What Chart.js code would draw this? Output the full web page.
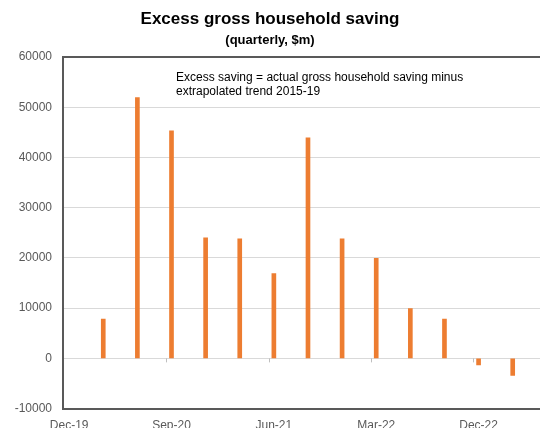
<!DOCTYPE html>
<html>
<head>
<meta charset="utf-8">
<script src="https://cdn.jsdelivr.net/npm/chart.js@4.4.1/dist/chart.umd.min.js"></script>
<style>
    body { margin: 0; overflow: hidden; background: #fff; }
    canvas { display: block; }
</style>
</head>
<body>
<canvas id="myChart" width="540" height="451"></canvas>
<script>
// quarterly excess saving, $m
const quarters = ['Dec-19', 'Mar-20', 'Jun-20', 'Sep-20', 'Dec-20', 'Mar-21', 'Jun-21',
                  'Sep-21', 'Dec-21', 'Mar-22', 'Jun-22', 'Sep-22', 'Dec-22', 'Mar-23'];
const excessSaving = [null, 7800, 51900, 45300, 24000, 23800, 16900,
                      43900, 23800, 19900, 9900, 7800, -1300, -3400];
const yMin = -10000;
const yMax = 60000;
const yStep = 10000;
const noteLines = ['Excess saving = actual gross household saving minus',
                   'extrapolated trend 2015-19'];

const axisGrey = '#595959';
const gridGrey = '#d9d9d9';
const fontFamily = '"Liberation Sans", Arial, sans-serif';

// note text + the little tick marks Excel puts on the zero line
const notePlugin = {
    id: 'note',
    afterDraw(chart) {
        const ctx = chart.ctx;
        const area = chart.chartArea;
        const xs = chart.scales.x;
        const y0 = chart.scales.y.getPixelForValue(0);
        ctx.save();
        ctx.strokeStyle = '#bfbfbf';
        ctx.lineWidth = 1;
        for (let i = 3; i < quarters.length; i += 3) {
            const px = Math.round(xs.getPixelForValue(i - 0.15)) + 0.5;
            ctx.beginPath();
            ctx.moveTo(px, y0);
            ctx.lineTo(px, y0 + 4);
            ctx.stroke();
        }
        ctx.font = '12px ' + fontFamily;
        ctx.fillStyle = '#000';
        ctx.textBaseline = 'middle';
        ctx.textAlign = 'left';
        noteLines.forEach((line, i) => {
            ctx.fillText(line, area.left + 113, area.top + 21 + i * 14);
        });
        ctx.restore();
    }
};

const ctx = document.getElementById('myChart').getContext('2d');
const myChart = new Chart(ctx, {
    type: 'bar',
    data: {
        datasets: [{
            label: 'Excess saving',
            data: excessSaving.map((v, i) => ({ x: i, y: v })),
            backgroundColor: '#ED7D31',
            borderWidth: 0,
            barThickness: 4
        }]
    },
    options: {
        responsive: false,
        animation: false,
        layout: { padding: { top: 0, right: 0, bottom: 8, left: 0 } },
        plugins: {
            legend: { display: false },
            tooltip: { enabled: false },
            title: {
                display: true,
                text: 'Excess gross household saving',
                color: '#000',
                font: { family: fontFamily, size: 17, weight: 'bold' },
                padding: { top: 9, bottom: 0 }
            },
            subtitle: {
                display: true,
                text: '(quarterly, $m)',
                color: '#000',
                font: { family: fontFamily, size: 13, weight: 'bold' },
                padding: { top: 3, bottom: 9 }
            }
        },
        scales: {
            x: {
                type: 'linear',
                offset: false,
                min: -0.18,
                max: 13.8,
                grid: { drawOnChartArea: false, drawTicks: false },
                border: { color: axisGrey, width: 2 },
                ticks: {
                    stepSize: 3,
                    includeBounds: false,
                    autoSkip: false,
                    maxRotation: 0,
                    padding: 10,
                    color: axisGrey,
                    font: { family: fontFamily, size: 12 },
                    callback: (value) => quarters[value] || ''
                }
            },
            y: {
                min: yMin,
                max: yMax,
                afterFit: (scale) => { scale.width = 63; },
                grid: {
                    drawTicks: false,
                    color: (c) => c.tick && c.tick.value === yMax ? axisGrey : gridGrey,
                    lineWidth: (c) => c.tick && c.tick.value === yMax ? 2 : 1
                },
                border: { color: axisGrey, width: 2 },
                ticks: {
                    stepSize: yStep,
                    padding: 11,
                    color: axisGrey,
                    font: { family: fontFamily, size: 12 },
                    callback: (value) => String(value)
                }
            }
        }
    },
    plugins: [notePlugin]
});
</script>
</body>
</html>
